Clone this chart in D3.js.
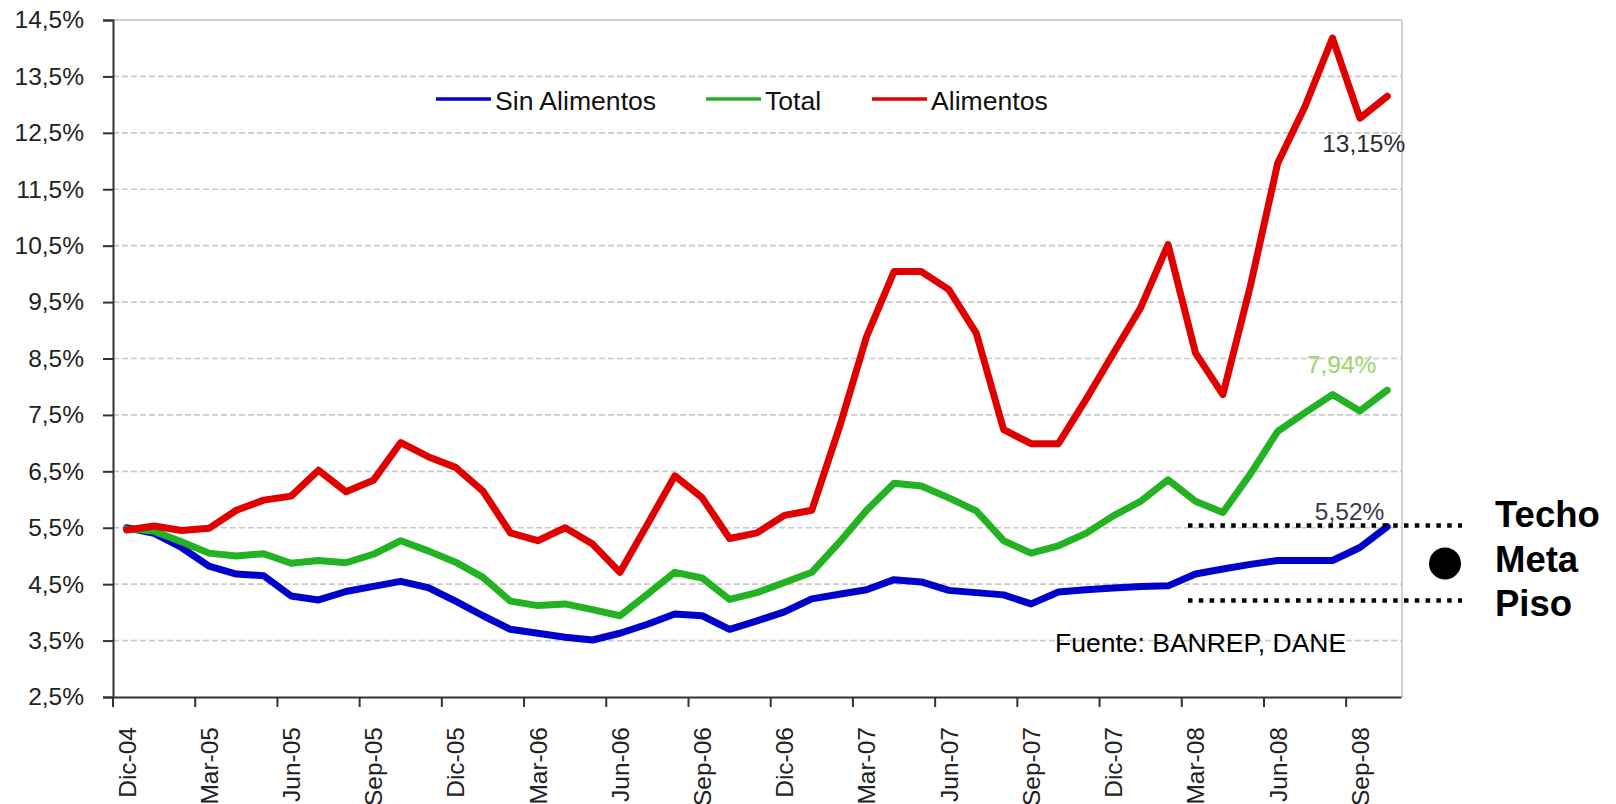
<!DOCTYPE html>
<html>
<head>
<meta charset="utf-8">
<script src="https://cdn.jsdelivr.net/npm/d3@7"></script>
<style>
  html, body { margin: 0; padding: 0; background: #fff; }
  svg { display: block; font-family: "Liberation Sans", Arial, sans-serif; }
</style>
</head>
<body>
<svg id="chart" width="1616" height="804"></svg>
<script>
// ---- Data ----
const months = ["Dic-04",
  "Ene-05","Feb-05","Mar-05","Abr-05","May-05","Jun-05","Jul-05","Ago-05","Sep-05","Oct-05","Nov-05","Dic-05",
  "Ene-06","Feb-06","Mar-06","Abr-06","May-06","Jun-06","Jul-06","Ago-06","Sep-06","Oct-06","Nov-06","Dic-06",
  "Ene-07","Feb-07","Mar-07","Abr-07","May-07","Jun-07","Jul-07","Ago-07","Sep-07","Oct-07","Nov-07","Dic-07",
  "Ene-08","Feb-08","Mar-08","Abr-08","May-08","Jun-08","Jul-08","Ago-08","Sep-08","Oct-08"];

const tickMonths = ["Dic-04","Mar-05","Jun-05","Sep-05","Dic-05","Mar-06","Jun-06","Sep-06",
  "Dic-06","Mar-07","Jun-07","Sep-07","Dic-07","Mar-08","Jun-08","Sep-08"];

const yTicks = [2.5, 3.5, 4.5, 5.5, 6.5, 7.5, 8.5, 9.5, 10.5, 11.5, 12.5, 13.5, 14.5];

const sinAlimentos = [5.50,5.40,5.15,4.82,4.68,4.65,4.29,4.22,4.37,4.46,4.55,4.44,4.20,
  3.94,3.70,3.63,3.56,3.51,3.63,3.79,3.97,3.94,3.70,3.85,4.01,
  4.24,4.32,4.40,4.58,4.54,4.39,4.35,4.31,4.15,4.36,4.40,4.43,
  4.46,4.47,4.68,4.77,4.85,4.92,4.92,4.92,5.15,5.52];

const total = [5.48,5.44,5.25,5.05,5.00,5.04,4.87,4.92,4.88,5.03,5.27,5.09,4.89,
  4.62,4.20,4.12,4.15,4.05,3.94,4.32,4.71,4.61,4.23,4.35,4.53,
  4.71,5.24,5.81,6.29,6.24,6.03,5.80,5.27,5.05,5.18,5.40,5.71,
  5.97,6.35,5.97,5.77,6.45,7.21,7.54,7.86,7.57,7.94];

const alimentos = [5.46,5.53,5.45,5.49,5.81,5.99,6.06,6.52,6.14,6.34,7.01,6.76,6.57,
  6.15,5.41,5.27,5.50,5.21,4.71,5.56,6.42,6.03,5.31,5.41,5.72,
  5.81,7.27,8.89,10.04,10.04,9.72,8.95,7.24,6.99,6.99,7.77,8.59,
  9.40,10.52,8.60,7.86,9.78,11.96,12.97,14.18,12.76,13.15];

const seriesNames = ["Sin Alimentos", "Total", "Alimentos"];
const seriesColors = ["#0000CC", "#22B222", "#E00000"];
const seriesValues = [sinAlimentos, total, alimentos];

const techo = 5.54;
const piso = 4.21;
const rangeLabels = ["Techo", "Meta", "Piso"];
const fuente = "Fuente: BANREP, DANE";

// ---- Layout ----
const L = 113, R = 1401, T = 20, B = 697;
const svg = d3.select("#chart");

const x = d3.scaleBand().domain(months).range([L, R]).paddingInner(0).paddingOuter(0);
const bw = x.bandwidth();
const cx = m => x(m) + bw / 2;
const y = d3.scaleLinear().domain([2.5, 14.5]).range([B, T]);

// gridlines
svg.append("g").selectAll("line")
  .data(yTicks.filter(v => v > 2.5 && v < 14.5))
  .join("line")
  .attr("x1", L).attr("x2", R + 1)
  .attr("y1", d => y(d)).attr("y2", d => y(d))
  .attr("stroke", "#cacaca").attr("stroke-width", 1.6)
  .attr("stroke-dasharray", "6 3");

// top & right border
svg.append("line").attr("x1", L).attr("x2", R + 1).attr("y1", y(14.5)).attr("y2", y(14.5))
  .attr("stroke", "#cfcfcf").attr("stroke-width", 2);
svg.append("line").attr("x1", R + 1).attr("x2", R + 1).attr("y1", T).attr("y2", B)
  .attr("stroke", "#cfcfcf").attr("stroke-width", 2);

// y axis
const yAxis = svg.append("g").attr("transform", `translate(${L},0)`)
  .call(d3.axisLeft(y).tickValues(yTicks).tickSize(10).tickPadding(19)
    .tickFormat(d => d3.format(".1f")(d).replace(".", ",") + "%"));
yAxis.select(".domain").attr("stroke", "#333").attr("stroke-width", 2);
yAxis.selectAll(".tick line").attr("stroke", "#333").attr("stroke-width", 2);
yAxis.selectAll(".tick text").attr("font-size", 24.5).attr("fill", "#222")
  .attr("font-family", "Liberation Sans, Arial, sans-serif");

// x axis
const xAxis = svg.append("g").attr("transform", `translate(0,${B})`)
  .call(d3.axisBottom(x).tickValues(tickMonths).tickSize(0).tickPadding(0));
xAxis.select(".domain").attr("stroke", "#333").attr("stroke-width", 2);
xAxis.selectAll(".tick text")
  .attr("font-size", 24.5).attr("fill", "#222")
  .attr("font-family", "Liberation Sans, Arial, sans-serif")
  .attr("text-anchor", "end")
  .attr("transform", "translate(0,30) rotate(-90)")
  .attr("x", 0).attr("y", 0).attr("dy", "0.36em");
svg.append("g").selectAll("line").data(tickMonths).join("line")
  .attr("x1", d => x(d)).attr("x2", d => x(d))
  .attr("y1", B).attr("y2", B + 10)
  .attr("stroke", "#333").attr("stroke-width", 2);

// series lines
const line = d3.line().x((d, i) => cx(months[i])).y(d => y(d));
svg.append("g").selectAll("path")
  .data(seriesValues)
  .join("path")
  .attr("d", d => line(d))
  .attr("fill", "none")
  .attr("stroke", (d, i) => seriesColors[i])
  .attr("stroke-width", 7)
  .attr("stroke-linejoin", "round")
  .attr("stroke-linecap", "round");

// legend
const legendX = [436, 706, 872];
const lg = svg.append("g");
seriesNames.forEach((n, i) => {
  lg.append("line").attr("x1", legendX[i]).attr("x2", legendX[i] + 55)
    .attr("y1", 99).attr("y2", 99)
    .attr("stroke", seriesColors[i]).attr("stroke-width", 3.3);
  lg.append("text").attr("x", legendX[i] + 59).attr("y", 110)
    .attr("font-size", 26.6).attr("fill", "#111").text(n);
});

// end labels
const last = months[months.length - 1];
const fmt = v => d3.format(".2f")(v).replace(".", ",") + "%";
svg.append("text").attr("x", cx(last) + 18).attr("y", y(alimentos[46]) + 56)
  .attr("text-anchor", "end").attr("font-size", 24.5).attr("fill", "#2a2a3a").text(fmt(alimentos[46]));
svg.append("text").attr("x", cx(last) - 11).attr("y", y(total[46]) - 17)
  .attr("text-anchor", "end").attr("font-size", 24.5).attr("fill", "#9fd36a").text(fmt(total[46]));
svg.append("text").attr("x", cx(last) - 3).attr("y", y(sinAlimentos[46]) - 7)
  .attr("text-anchor", "end").attr("font-size", 24.5).attr("fill", "#3a3a4a").text(fmt(sinAlimentos[46]));

// source
svg.append("text").attr("x", 1055).attr("y", 652).attr("font-size", 26.5).attr("fill", "#000").text(fuente);

// target range
[techo, piso].forEach(v => {
  svg.append("line").attr("x1", 1188).attr("x2", 1462)
    .attr("y1", y(v)).attr("y2", y(v))
    .attr("stroke", "#000").attr("stroke-width", 4.5)
    .attr("stroke-dasharray", "4.5 6.3");
});
svg.append("circle").attr("cx", 1445).attr("cy", (y(techo) + y(piso)) / 2 + 0.5).attr("r", 16).attr("fill", "#000");
rangeLabels.forEach((t, i) => {
  svg.append("text").attr("x", 1495).attr("y", 527 + i * 44.7)
    .attr("font-size", 36.5).attr("font-weight", "bold").attr("fill", "#000").text(t);
});
</script>
</body>
</html>
